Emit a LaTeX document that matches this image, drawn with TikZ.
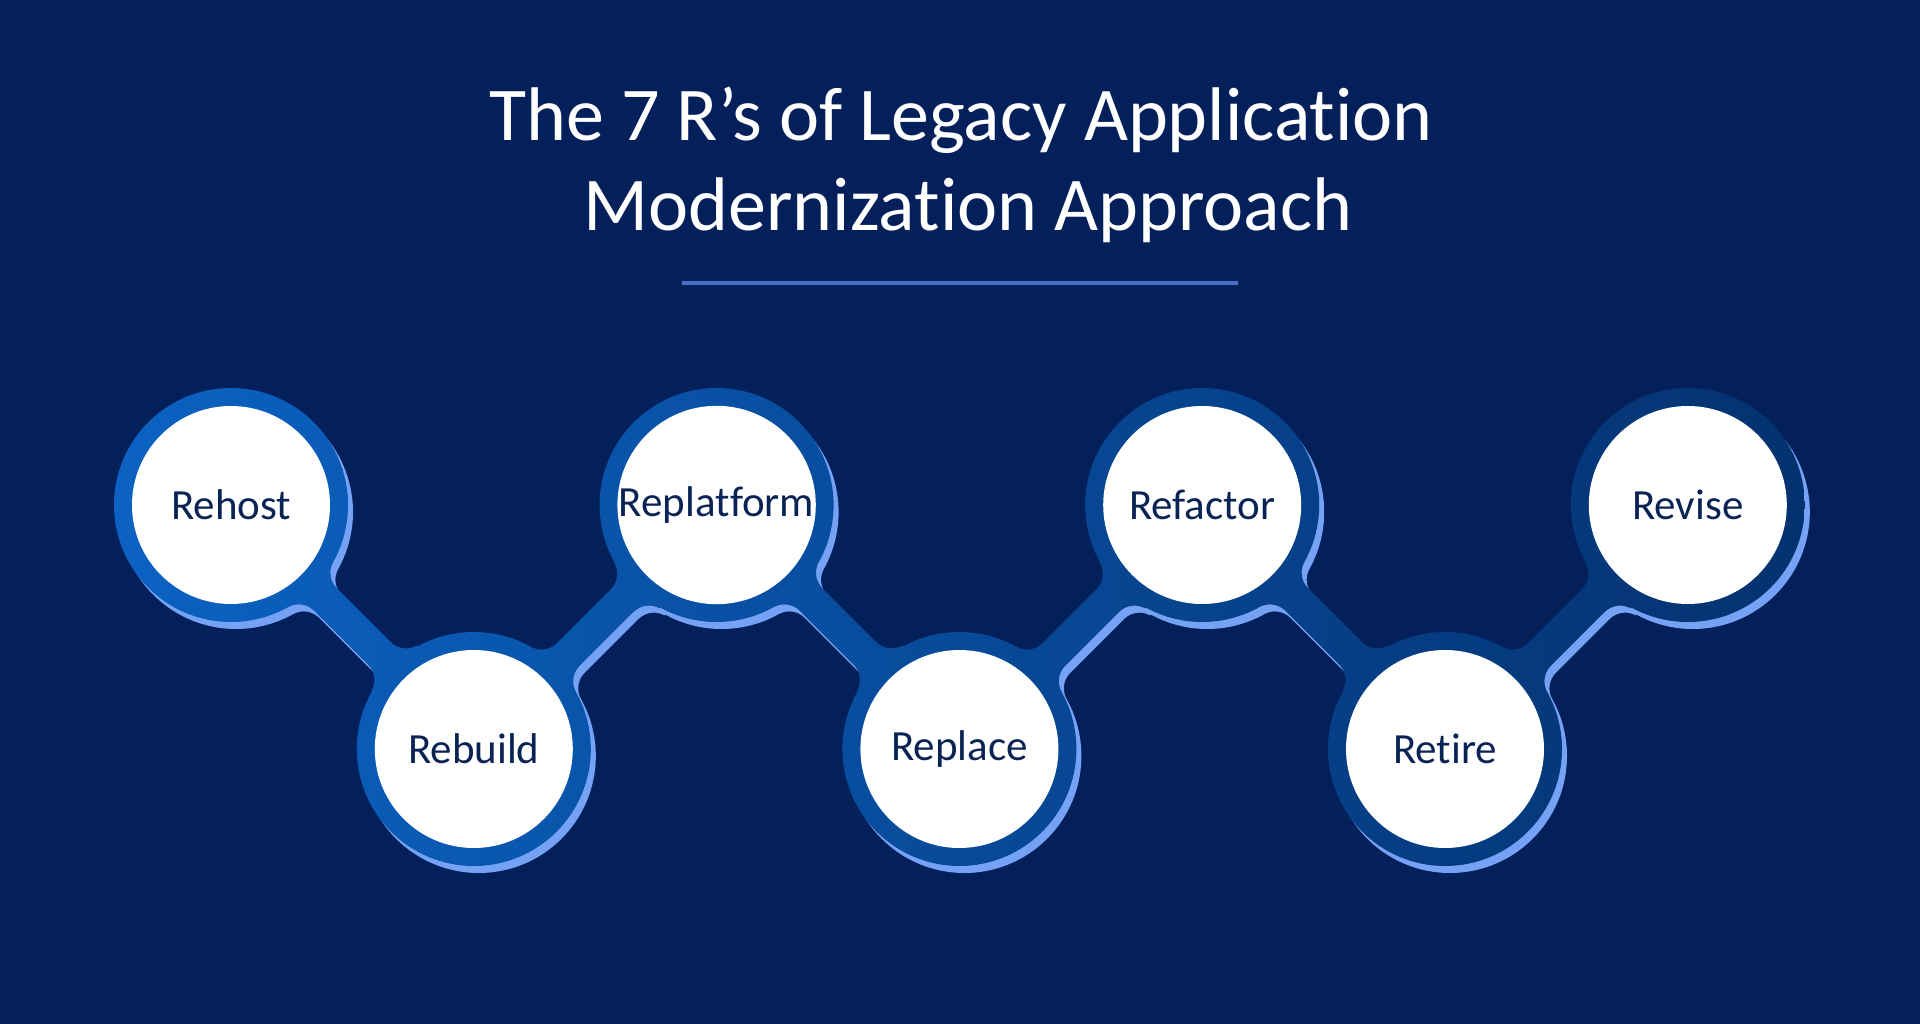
\documentclass[tikz,border=0pt]{standalone}
\usepackage{fontspec}
\setmainfont{Carlito}[Ligatures=NoCommon]
\definecolor{bgc}{RGB}{3,32,91}
\definecolor{ringL}{RGB}{11,98,194}
\definecolor{ringR}{RGB}{4,50,112}
\definecolor{shadowc}{RGB}{118,162,246}
\definecolor{linec}{RGB}{72,110,200}
\definecolor{textc}{RGB}{10,35,85}
% one connector in local frame: from (0,0) to (343.36,0)
\newcommand\connpiece{%
 (0,0) -- (112.544,-31.986) arc[start angle=164.13,end angle=90,radius=22]
 -- (209.655,-16) arc[start angle=90,end angle=15.87,radius=22]
 -- (343.36,0) -- (230.816,31.986) arc[start angle=-15.87,end angle=-90,radius=22]
 -- (133.705,16) arc[start angle=-90,end angle=-164.13,radius=22] -- cycle}
\newcommand\chainpath[1]{%
 (#10) ++(117,0) arc[start angle=0,end angle=360,radius=117]
 (#11) ++(117,0) arc[start angle=0,end angle=360,radius=117]
 (#12) ++(117,0) arc[start angle=0,end angle=360,radius=117]
 (#13) ++(117,0) arc[start angle=0,end angle=360,radius=117]
 (#14) ++(117,0) arc[start angle=0,end angle=360,radius=117]
 (#15) ++(117,0) arc[start angle=0,end angle=360,radius=117]
 (#16) ++(117,0) arc[start angle=0,end angle=360,radius=117]
 {[shift={(#10)},rotate=-45] \connpiece}
 {[shift={(#11)},rotate=45] \connpiece}
 {[shift={(#12)},rotate=-45] \connpiece}
 {[shift={(#13)},rotate=45] \connpiece}
 {[shift={(#14)},rotate=-45] \connpiece}
 {[shift={(#15)},rotate=45] \connpiece}}
\newcommand\lbl[1]{\raisebox{-3pt}{#1}}
\tikzset{
 stage/.style={circle,fill=white,minimum size=198pt,inner sep=0pt,text=textc,
   font=\fontsize{43}{50}\selectfont},
 titletext/.style={text=white,anchor=base,inner sep=0pt,font=\fontsize{76}{90}\selectfont},
}
\begin{document}
\begin{tikzpicture}[x=1pt,y=-1pt]
\fill[bgc] (0,0) rectangle (1920,1024);
\useasboundingbox (0,0) rectangle (1920,1024);
% centres
\foreach \i/\xx/\yy in {0/231/505,1/473.8/749,2/716.6/505,3/959.4/749,4/1202.2/505,5/1445/749,6/1687.8/505}{
  \coordinate (c\i) at (\xx,\yy);
  \coordinate (s\i) at (\xx+5,\yy+7);
}
% shadow and chain
\fill[shadowc] \chainpath{s};
\shade[left color=ringL,right color=ringR] \chainpath{c};
% stages
\node[stage] (rehost) at (c0) {\lbl{Rehost}};
\node[stage] (rebuild) at (c1) {\lbl{Rebuild}};
\node[stage] (replatform) at (c2) {\lbl{Replatform}};
\node[stage] (replace) at (c3) {\lbl{Replace}};
\node[stage] (refactor) at (c4) {\lbl{Refactor}};
\node[stage] (retire) at (c5) {\lbl{Retire}};
\node[stage] (revise) at (c6) {\lbl{Revise}};
% title
\node[titletext] (t1) at (961,141) {The 7 R’s of Legacy Application};
\node[titletext] (t2) at (968,231) {Modernization Approach};
\coordinate (l1) at (682,283);
\coordinate (l2) at (1238,283);
\draw[linec,line width=4pt] (l1) -- (l2);
\end{tikzpicture}
\end{document}
